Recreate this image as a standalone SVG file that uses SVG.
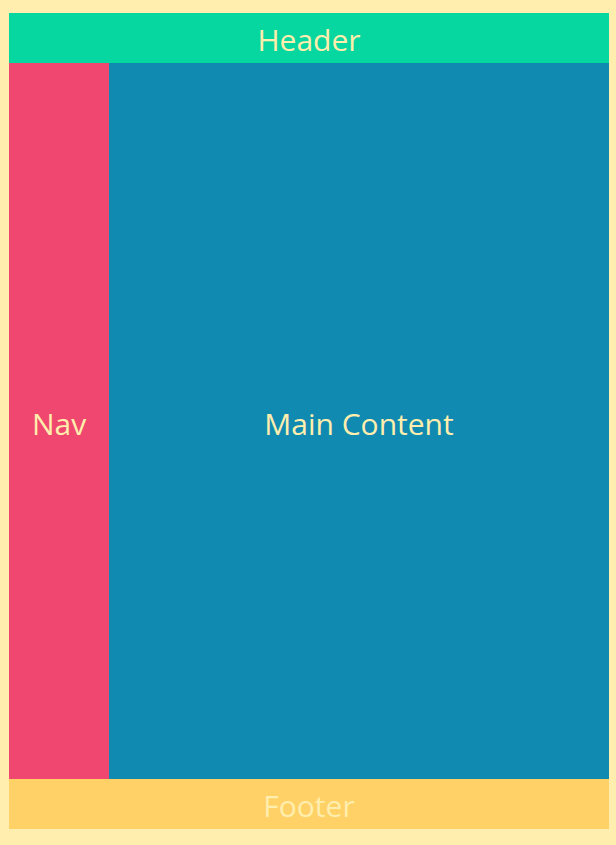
<svg xmlns="http://www.w3.org/2000/svg" width="616" height="845" viewBox="0 0 616 845">
<style>
text{font-family:"Open Sans","Noto Sans","Liberation Sans",sans-serif;font-size:30px;fill:#FFEEAD;text-anchor:middle}
</style>
<rect x="0" y="0" width="616" height="845" fill="#FFEEAD"/>
<g id="header"><rect x="9" y="13" width="600" height="50" fill="#06D6A0"/><text x="309" y="51">Header</text></g>
<g id="nav"><rect x="9" y="63" width="100" height="716" fill="#EF476F"/><text x="59" y="435">Nav</text></g>
<g id="main"><rect x="109" y="63" width="500" height="716" fill="#118AB2"/><text x="359" y="435">Main Content</text></g>
<g id="footer"><rect x="9" y="779" width="600" height="50" fill="#FFD166"/><text x="309" y="817">Footer</text></g>
<g id="connectors"/>
</svg>
